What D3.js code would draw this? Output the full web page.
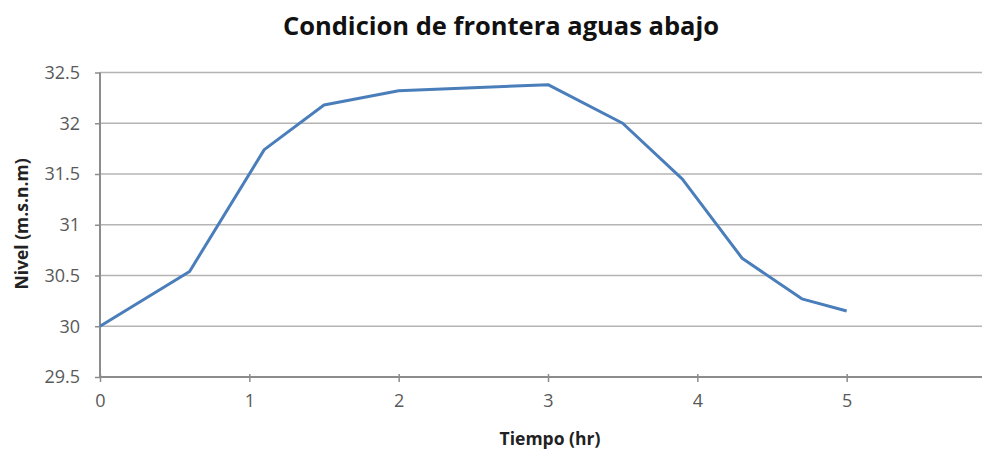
<!DOCTYPE html>
<html><head><meta charset="utf-8">
<script src="https://cdn.jsdelivr.net/npm/d3@7"></script>
<style>body{margin:0;background:#fff}</style>
</head><body>
<svg id="c" width="982" height="450"></svg>
<script>
const times = [0, 0.6, 1.1, 1.5, 2, 3, 3.5, 3.9, 4.3, 4.7, 5];
const levels = [30, 30.54, 31.74, 32.18, 32.32, 32.38, 32.0, 31.45, 30.67, 30.27, 30.15];
const xTicks = [0, 1, 2, 3, 4, 5];
const yTicks = [29.5, 30, 30.5, 31, 31.5, 32, 32.5];
const title = "Condicion de frontera aguas abajo";
const xTitle = "Tiempo (hr)";
const yTitle = "Nivel (m.s.n.m)";

const svg = d3.select("#c");
const x = d3.scaleLinear().domain([0, 6]).range([100, 996]);
const y = d3.scaleLinear().domain([29.5, 32.5]).range([377, 72.5]);
const font = "'Open Sans', 'Liberation Sans', sans-serif";

svg.append("text").attr("x", 501).attr("y", 35).attr("text-anchor", "middle")
  .attr("font-family", font).attr("font-weight", "bold").attr("font-size", 25.5)
  .attr("fill", "#111").text(title);

// gridlines
svg.append("g").selectAll("line").data(yTicks.filter(d => d > 29.5)).join("line")
  .attr("x1", x(0)).attr("x2", 982).attr("y1", d => y(d)).attr("y2", d => y(d))
  .attr("stroke", "#b4b4b4").attr("stroke-width", 1.6);

// x axis
const gx = svg.append("g").attr("transform", `translate(0,${y(29.5)})`)
  .call(d3.axisBottom(x).tickValues(xTicks).tickSize(5).tickPadding(12).tickFormat(d3.format("d")));
gx.select(".domain").attr("d", `M${x(0)},0H982`).attr("stroke", "#8c8c8c").attr("stroke-width", 2);
gx.selectAll(".tick line").attr("stroke", "#8c8c8c").attr("stroke-width", 1.5).attr("y1", -3);
gx.selectAll(".tick text").attr("font-family", font).attr("font-size", 18).attr("fill", "#595959");

// y axis
const gy = svg.append("g").attr("transform", `translate(${x(0)},0)`)
  .call(d3.axisLeft(y).tickValues(yTicks).tickSize(5).tickPadding(15).tickFormat(d => String(d)));
gy.select(".domain").attr("d", `M0,${y(32.5)}V${y(29.5)}`).attr("stroke", "#8c8c8c").attr("stroke-width", 2);
gy.selectAll(".tick line").attr("stroke", "#8c8c8c").attr("stroke-width", 1.5);
gy.selectAll(".tick text").attr("font-family", font).attr("font-size", 18).attr("fill", "#595959");

// line
svg.append("path").datum(times.map((t, i) => [t, levels[i]]))
  .attr("fill", "none").attr("stroke", "#4a7ebb").attr("stroke-width", 3)
  .attr("stroke-linejoin", "round")
  .attr("d", d3.line().x(d => x(d[0])).y(d => y(d[1])));

svg.append("text").attr("x", 550).attr("y", 445).attr("text-anchor", "middle")
  .attr("font-family", font).attr("font-weight", "bold").attr("font-size", 17.5)
  .attr("fill", "#222").text(xTitle);
svg.append("text").attr("transform", `translate(28,224) rotate(-90)`).attr("text-anchor", "middle")
  .attr("font-family", font).attr("font-weight", "bold").attr("font-size", 17.5)
  .attr("fill", "#222").text(yTitle);
</script>
</body></html>
